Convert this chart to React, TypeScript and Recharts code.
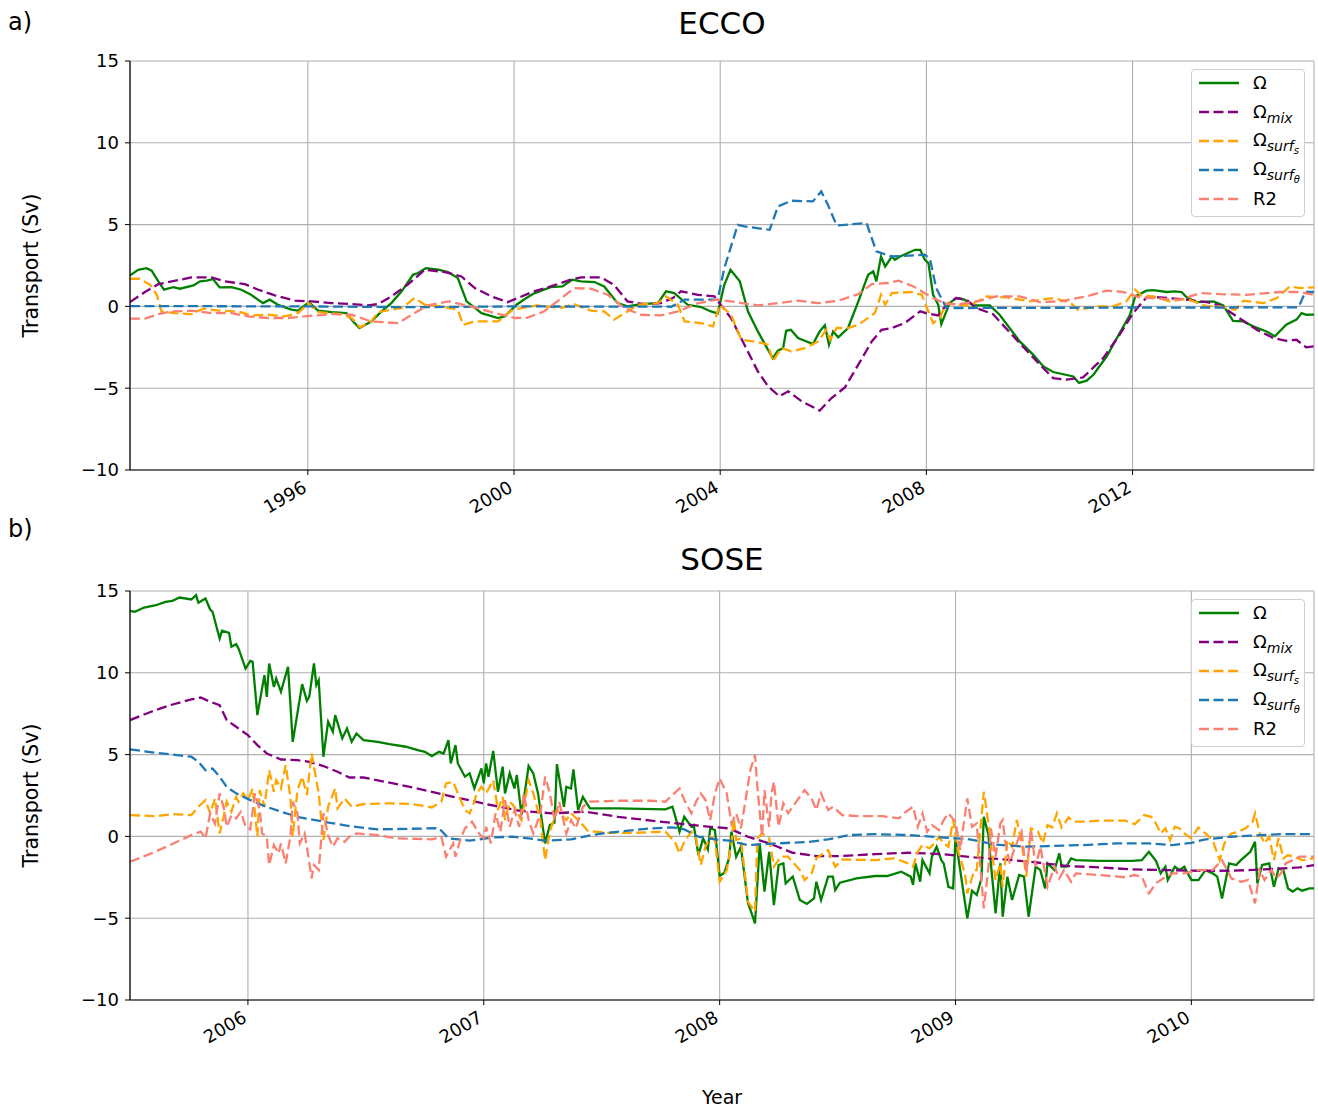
import React from 'react';
import { LineChart, Line, XAxis, YAxis, CartesianGrid } from 'recharts';

type Pt = [number, number];

const yTicks = [-10, -5, 0, 5, 10, 15];
const eccoTicks = [1996, 2000, 2004, 2008, 2012];
const soseTicks = [2006, 2007, 2008, 2009, 2010];
const eccoRange: [number, number] = [1992.55, 2015.52];
const soseRange: [number, number] = [2005.5, 2010.52];

// ---- ECCO (years, Sv) ----
const eccoOmega: Pt[] = [
  [1992.55, 1.9], [1992.71, 2.24], [1992.87, 2.34], [1992.97, 2.18], [1993.1, 1.53], [1993.21, 1.02],
  [1993.39, 1.18], [1993.52, 1.08], [1993.78, 1.28], [1993.91, 1.53], [1994.04, 1.57], [1994.16, 1.67],
  [1994.29, 1.16], [1994.52, 1.18], [1994.71, 1.02], [1994.88, 0.75], [1995.13, 0.2], [1995.26, 0.41],
  [1995.42, 0.1], [1995.68, -0.2], [1995.81, -0.26], [1996.02, 0.26], [1996.2, -0.26], [1996.46, -0.35],
  [1996.75, -0.41], [1996.88, -0.92], [1997.0, -1.32], [1997.23, -0.92], [1997.43, -0.31], [1997.62, 0.2],
  [1997.82, 0.92], [1998.04, 1.93], [1998.14, 2.04], [1998.29, 2.34], [1998.53, 2.24], [1998.72, 2.1],
  [1998.91, 1.73], [1999.08, 0.31], [1999.37, -0.41], [1999.69, -0.71], [1999.82, -0.61], [2000.05, 0.1],
  [2000.21, 0.45], [2000.39, 0.8], [2000.71, 1.18], [2000.94, 1.22], [2001.13, 1.63], [2001.3, 1.53],
  [2001.56, 1.49], [2001.75, 1.22], [2002.01, 0.2], [2002.2, 0], [2002.46, 0.14], [2002.79, 0.2],
  [2002.95, 0.92], [2003.11, 0.81], [2003.37, 0.1], [2003.63, -0.04], [2003.82, -0.31], [2003.95, -0.43],
  [2004.08, 1.32], [2004.2, 2.24], [2004.38, 1.53], [2004.54, -0.31], [2004.73, -1.53], [2004.89, -2.44],
  [2005.02, -3.16], [2005.12, -2.71], [2005.22, -2.55], [2005.28, -1.49], [2005.37, -1.43], [2005.51, -1.93],
  [2005.8, -2.3], [2005.93, -1.53], [2006.03, -1.16], [2006.11, -2.34], [2006.19, -1.53], [2006.29, -1.89],
  [2006.48, -1.32], [2006.68, 0.31], [2006.87, 1.93], [2006.97, 2.14], [2007.03, 1.53], [2007.12, 3.05],
  [2007.2, 2.44], [2007.33, 3.05], [2007.39, 2.85], [2007.49, 3.05], [2007.78, 3.46], [2007.88, 3.46],
  [2007.97, 2.85], [2008.04, 2.65], [2008.13, 0.71], [2008.23, 0.1], [2008.29, -1.08], [2008.45, 0.2],
  [2008.58, 0.51], [2008.74, 0.41], [2008.91, 0.06], [2009.23, 0.06], [2009.42, -0.51], [2009.81, -2.14],
  [2010.07, -2.95], [2010.27, -3.67], [2010.46, -4.01], [2010.85, -4.28], [2010.96, -4.68], [2011.11, -4.54],
  [2011.24, -4.18], [2011.5, -3.05], [2011.75, -1.63], [2011.95, -0.51], [2012.05, 0.61], [2012.27, 0.96],
  [2012.4, 1.0], [2012.66, 0.88], [2012.82, 0.92], [2012.95, 0.88], [2013.05, 0.55], [2013.24, 0.26],
  [2013.57, 0.31], [2013.76, 0.06], [2013.95, -0.88], [2014.15, -0.92], [2014.34, -1.22], [2014.6, -1.53],
  [2014.76, -1.83], [2014.98, -1.12], [2015.18, -0.81], [2015.28, -0.41], [2015.37, -0.51], [2015.52, -0.5],
];

const eccoMix: Pt[] = [
  [1992.55, 0.26], [1992.84, 0.88], [1993.1, 1.36], [1993.36, 1.53], [1993.74, 1.77], [1994.13, 1.77],
  [1994.39, 1.53], [1994.78, 1.36], [1995.04, 1.02], [1995.36, 0.67], [1995.75, 0.35], [1996.07, 0.31],
  [1996.46, 0.2], [1996.85, 0.14], [1997.17, 0.06], [1997.36, 0.14], [1997.62, 0.61], [1997.95, 1.36],
  [1998.27, 2.24], [1998.66, 2.1], [1998.98, 1.83], [1999.24, 1.12], [1999.56, 0.61], [1999.88, 0.26],
  [2000.37, 0.9], [2000.71, 1.22], [2001.1, 1.63], [2001.3, 1.77], [2001.69, 1.77], [2001.94, 1.32],
  [2002.2, 0.31], [2002.53, 0.14], [2002.85, 0.2], [2003.08, 0.51], [2003.24, 0.92], [2003.57, 0.71],
  [2003.89, 0.61], [2004.02, 0.06], [2004.21, -0.71], [2004.47, -2.34], [2004.73, -3.97], [2004.93, -4.89],
  [2005.15, -5.5], [2005.32, -5.19], [2005.58, -5.8], [2005.93, -6.37], [2006.16, -5.6], [2006.42, -4.95],
  [2006.68, -3.56], [2006.94, -2.14], [2007.13, -1.43], [2007.33, -1.32], [2007.59, -1.0], [2007.88, -0.3],
  [2008.04, -0.45], [2008.23, -0.55], [2008.39, 0.1], [2008.58, 0.51], [2008.78, 0.41], [2008.97, -0.1],
  [2009.29, -0.47], [2009.81, -2.24], [2010.2, -3.56], [2010.46, -4.38], [2010.72, -4.48], [2011.04, -4.34],
  [2011.43, -3.16], [2011.75, -1.73], [2012.01, -0.41], [2012.27, 0.55], [2012.53, 0.55], [2013.05, 0.41],
  [2013.44, 0.26], [2013.7, 0.06], [2014.02, -0.61], [2014.41, -1.43], [2014.73, -1.93], [2014.98, -2.1],
  [2015.18, -2.04], [2015.37, -2.5], [2015.52, -2.44],
];

const eccoSurfS: Pt[] = [
  [1992.55, 1.69], [1992.74, 1.69], [1992.94, 1.32], [1993.07, 0.71], [1993.16, -0.31], [1993.42, -0.41],
  [1993.74, -0.47], [1993.97, -0.14], [1994.26, -0.26], [1994.65, -0.31], [1994.91, -0.55], [1995.23, -0.51],
  [1995.55, -0.61], [1995.81, -0.41], [1996.01, 0.2], [1996.2, -0.35], [1996.65, -0.47], [1996.85, -0.71],
  [1997.01, -1.28], [1997.23, -0.92], [1997.36, -0.35], [1997.82, -0.1], [1998.07, 0.51], [1998.27, 0.1],
  [1998.59, 0], [1998.91, -0.2], [1999.01, -1.12], [1999.24, -0.92], [1999.69, -0.92], [1999.95, -0.26],
  [2000.21, -0.06], [2000.45, 0.06], [2000.91, -0.1], [2001.17, 0.14], [2001.49, -0.26], [2001.75, -0.31],
  [2001.94, -0.81], [2002.2, -0.31], [2002.4, 0.1], [2002.79, 0.2], [2002.95, 0.61], [2003.18, 0.1],
  [2003.31, -0.92], [2003.63, -1.02], [2003.86, -1.22], [2003.99, 0.1], [2004.21, -0.51], [2004.41, -2.04],
  [2004.73, -2.18], [2004.93, -2.34], [2005.02, -3.36], [2005.19, -2.55], [2005.38, -2.75], [2005.64, -2.55],
  [2005.9, -2.14], [2006.06, -1.43], [2006.13, -2.04], [2006.26, -1.32], [2006.48, -1.32], [2006.68, -1.12],
  [2007.0, -0.41], [2007.12, 0.71], [2007.2, 0.1], [2007.33, 0.81], [2007.71, 0.88], [2007.91, 0.71],
  [2008.04, -0.31], [2008.13, -1.02], [2008.26, -0.71], [2008.39, 0.2], [2008.65, 0.1], [2008.84, 0.06],
  [2009.17, 0.61], [2009.55, 0.55], [2010.01, 0.31], [2010.46, 0.51], [2010.78, 0.26], [2010.94, -0.2],
  [2011.3, 0], [2011.62, 0], [2011.88, 0.31], [2012.05, 1.02], [2012.17, 0.67], [2012.4, 0.61],
  [2012.72, 0.31], [2013.05, 0.47], [2013.44, 0], [2013.7, 0], [2013.99, -0.2], [2014.15, 0.35],
  [2014.54, 0.2], [2014.8, 0.51], [2015.05, 1.22], [2015.25, 1.12], [2015.52, 1.16],
];

const eccoSurfT: Pt[] = [
  [1992.55, 0.02], [1996.0, 0], [1998.0, -0.05], [2000.0, 0], [2003.05, -0.02], [2003.31, 0.41],
  [2003.95, 0.41], [2004.08, 2.34], [2004.34, 4.99], [2004.47, 4.89], [2004.96, 4.68], [2005.12, 6.11],
  [2005.38, 6.46], [2005.8, 6.42], [2005.96, 7.03], [2006.09, 6.21], [2006.26, 4.95], [2006.84, 5.09],
  [2007.03, 3.36], [2007.33, 3.05], [2007.97, 3.16], [2008.07, 2.9], [2008.19, 1.12], [2008.39, -0.1],
  [2011.0, -0.08], [2015.22, -0.06], [2015.35, 0.88], [2015.52, 0.88],
];

const eccoR2: Pt[] = [
  [1992.55, -0.75], [1992.84, -0.75], [1993.1, -0.47], [1993.36, -0.31], [1993.74, -0.26], [1994.13, -0.41],
  [1994.52, -0.41], [1994.84, -0.61], [1995.23, -0.71], [1995.62, -0.71], [1995.94, -0.61], [1996.46, -0.47],
  [1996.85, -0.51], [1997.23, -0.92], [1997.75, -1.02], [1998.07, -0.41], [1998.33, 0.06], [1998.72, 0.31],
  [1999.17, 0], [1999.56, -0.35], [2000.01, -0.71], [2000.25, -0.7], [2000.58, -0.31], [2000.84, 0.31],
  [2001.17, 1.12], [2001.49, 1.08], [2001.82, 0.71], [2002.14, -0.1], [2002.46, -0.51], [2002.85, -0.55],
  [2003.18, -0.31], [2003.57, 0.2], [2003.95, 0.41], [2004.21, 0.31], [2004.73, 0.06], [2005.12, 0.2],
  [2005.51, 0.35], [2005.9, 0.2], [2006.29, 0.35], [2006.68, 0.75], [2006.94, 1.36], [2007.26, 1.43],
  [2007.46, 1.57], [2007.75, 1.22], [2007.97, 0.81], [2008.13, 0.51], [2008.39, 0.14], [2008.65, 0.14],
  [2009.04, 0.35], [2009.36, 0.61], [2009.81, 0.61], [2010.2, 0.26], [2010.59, 0.31], [2011.11, 0.61],
  [2011.5, 0.96], [2011.82, 0.88], [2012.14, 0.55], [2012.53, 0.47], [2012.92, 0.41], [2013.31, 0.81],
  [2013.7, 0.75], [2014.21, 0.71], [2014.6, 0.81], [2014.86, 0.88], [2015.25, 0.88], [2015.52, 0.71],
];

// ---- SOSE (years, Sv) ----
const soseOmega: Pt[] = [
  [2005.5, 13.79], [2005.52, 13.73], [2005.56, 13.99], [2005.61, 14.13], [2005.65, 14.34], [2005.68, 14.4],
  [2005.71, 14.6], [2005.76, 14.48], [2005.78, 14.75], [2005.79, 14.28], [2005.82, 14.54], [2005.84, 13.87],
  [2005.85, 13.73], [2005.88, 12.1], [2005.89, 12.57], [2005.92, 12.44], [2005.93, 11.59], [2005.95, 11.75],
  [2005.96, 11.49], [2005.99, 10.26], [2006.01, 10.73], [2006.02, 10.67], [2006.04, 7.41], [2006.07, 9.86],
  [2006.08, 8.53], [2006.09, 10.57], [2006.11, 9.14], [2006.12, 9.65], [2006.14, 8.84], [2006.17, 10.37],
  [2006.19, 5.78], [2006.23, 9.31], [2006.25, 8.29], [2006.26, 8.53], [2006.28, 10.57], [2006.29, 9.25],
  [2006.3, 9.55], [2006.32, 4.87], [2006.34, 7.01], [2006.36, 6.4], [2006.37, 7.41], [2006.4, 5.99],
  [2006.42, 6.6], [2006.44, 5.78], [2006.46, 6.29], [2006.49, 5.89], [2006.55, 5.78], [2006.6, 5.64],
  [2006.67, 5.48], [2006.72, 5.27], [2006.75, 5.17], [2006.78, 4.91], [2006.81, 5.17], [2006.83, 5.07],
  [2006.85, 5.89], [2006.86, 4.46], [2006.88, 5.58], [2006.89, 4.46], [2006.92, 3.65], [2006.94, 3.85],
  [2006.96, 2.93], [2006.99, 4.15], [2007.0, 3.24], [2007.01, 4.46], [2007.02, 3.65], [2007.04, 5.23],
  [2007.06, 2.73], [2007.08, 4.26], [2007.09, 2.63], [2007.11, 3.85], [2007.13, 2.93], [2007.14, 3.75],
  [2007.16, 1.3], [2007.19, 4.3], [2007.21, 3.85], [2007.23, 2.63], [2007.26, -0.43], [2007.28, 0.69],
  [2007.3, 0.84], [2007.31, 4.42], [2007.34, 1.81], [2007.35, 3.03], [2007.37, 2.93], [2007.38, 4.09],
  [2007.4, 1.61], [2007.42, 2.42], [2007.45, 1.71], [2007.57, 1.71], [2007.77, 1.65], [2007.8, 1.81],
  [2007.83, 0.29], [2007.85, 1.2], [2007.88, 0.59], [2007.89, 0.69], [2007.91, -1.14], [2007.93, -0.12],
  [2007.95, -0.79], [2007.96, 0.49], [2007.98, 0.39], [2008.0, -2.42], [2008.02, -2.22], [2008.04, -1.34],
  [2008.05, 0.29], [2008.07, -1.24], [2008.09, -0.63], [2008.12, -4.05], [2008.15, -5.32], [2008.17, -0.43],
  [2008.19, -3.38], [2008.21, -0.94], [2008.23, -4.2], [2008.25, -1.75], [2008.27, -1.65], [2008.28, -2.87],
  [2008.31, -2.46], [2008.34, -3.89], [2008.37, -4.13], [2008.4, -3.79], [2008.41, -2.77], [2008.43, -3.89],
  [2008.46, -2.46], [2008.48, -2.46], [2008.49, -3.28], [2008.51, -2.83], [2008.58, -2.57], [2008.66, -2.42],
  [2008.71, -2.42], [2008.77, -2.16], [2008.81, -2.46], [2008.82, -2.97], [2008.83, -1.65], [2008.85, -2.77],
  [2008.86, -1.45], [2008.89, -2.26], [2008.9, -1.24], [2008.92, -0.63], [2008.94, -1.45], [2008.95, -1.65],
  [2008.97, -3.08], [2008.99, -3.18], [2009.0, -0.12], [2009.02, -2.06], [2009.05, -5.01], [2009.07, -3.32],
  [2009.09, -3.58], [2009.11, -2.57], [2009.12, 1.2], [2009.14, 0.08], [2009.15, -1.65], [2009.17, -4.7],
  [2009.19, -1.65], [2009.2, -4.91], [2009.22, -2.46], [2009.24, -3.89], [2009.27, -2.36], [2009.29, -2.46],
  [2009.31, -4.91], [2009.34, -1.85], [2009.36, -2.06], [2009.38, -3.18], [2009.39, -1.65], [2009.42, -2.06],
  [2009.44, -1.04], [2009.45, -1.85], [2009.47, -1.85], [2009.49, -1.34], [2009.51, -1.45], [2009.61, -1.49],
  [2009.75, -1.49], [2009.79, -1.45], [2009.82, -0.94], [2009.85, -1.49], [2009.87, -2.26], [2009.89, -1.85],
  [2009.9, -2.67], [2009.93, -1.85], [2009.95, -2.06], [2009.97, -1.85], [2010.0, -2.67], [2010.03, -2.67],
  [2010.06, -2.06], [2010.09, -2.26], [2010.11, -2.46], [2010.13, -3.79], [2010.16, -1.65], [2010.19, -1.75],
  [2010.21, -1.45], [2010.25, -0.94], [2010.27, -0.33], [2010.28, -2.87], [2010.3, -1.75], [2010.33, -1.65],
  [2010.35, -3.08], [2010.37, -1.96], [2010.39, -2.06], [2010.41, -3.18], [2010.43, -3.38], [2010.45, -3.18],
  [2010.47, -3.32], [2010.5, -3.18], [2010.52, -3.18],
];

const soseMix: Pt[] = [
  [2005.5, 7.11], [2005.59, 7.62], [2005.67, 8.02], [2005.76, 8.37], [2005.8, 8.49], [2005.84, 8.23],
  [2005.88, 8.02], [2005.91, 7.11], [2005.95, 6.7], [2006.0, 6.19], [2006.04, 5.58], [2006.08, 5.07],
  [2006.14, 4.7], [2006.21, 4.66], [2006.26, 4.56], [2006.32, 4.3], [2006.38, 3.95], [2006.43, 3.6],
  [2006.49, 3.6], [2006.58, 3.34], [2006.67, 3.08], [2006.76, 2.79], [2006.87, 2.42], [2007.01, 1.98],
  [2007.15, 1.57], [2007.29, 1.41], [2007.43, 1.51], [2007.57, 1.2], [2007.71, 0.96], [2007.85, 0.75],
  [2007.95, 0.6], [2008.04, 0.49], [2008.12, -0.02], [2008.21, -0.43], [2008.31, -1.0], [2008.41, -1.2],
  [2008.52, -1.2], [2008.66, -1.08], [2008.8, -1.0], [2008.94, -1.08], [2009.08, -1.28], [2009.2, -1.4],
  [2009.32, -1.55], [2009.47, -1.81], [2009.61, -1.89], [2009.75, -2.02], [2009.89, -2.06], [2010.03, -2.1],
  [2010.17, -2.1], [2010.31, -2.02], [2010.46, -1.89], [2010.52, -1.75],
];

const soseSurfS: Pt[] = [
  [2005.5, 1.3], [2005.61, 1.24], [2005.68, 1.36], [2005.76, 1.3], [2005.79, 1.81], [2005.82, 2.22],
  [2005.84, 1.41], [2005.86, 2.32], [2005.88, 0.18], [2005.9, 1.41], [2005.91, 2.12], [2005.93, 1.51],
  [2005.95, 2.42], [2005.96, 2.12], [2005.98, 2.63], [2006.0, 2.22], [2006.02, 2.93], [2006.04, -0.02],
  [2006.05, 2.83], [2006.07, 1.81], [2006.09, 4.05], [2006.11, 2.73], [2006.12, 3.44], [2006.14, 2.93],
  [2006.16, 4.36], [2006.18, 2.42], [2006.19, -0.02], [2006.21, 2.83], [2006.23, 3.65], [2006.25, 2.53],
  [2006.27, 5.07], [2006.28, 4.26], [2006.3, 2.63], [2006.32, -0.22], [2006.34, 1.81], [2006.37, 2.93],
  [2006.38, 1.71], [2006.41, 2.32], [2006.44, 1.81], [2006.49, 1.98], [2006.6, 2.02], [2006.69, 1.98],
  [2006.75, 1.85], [2006.78, 1.77], [2006.82, 2.12], [2006.84, 3.24], [2006.87, 3.34], [2006.89, 2.63],
  [2006.92, 1.61], [2006.94, 1.41], [2006.96, 2.12], [2006.97, 2.63], [2006.99, 3.03], [2007.01, 2.63],
  [2007.04, 3.44], [2007.06, 1.61], [2007.08, 2.42], [2007.09, 1.0], [2007.11, 2.12], [2007.13, 1.81],
  [2007.16, 1.0], [2007.19, 3.44], [2007.21, 2.63], [2007.24, 1.0], [2007.26, -1.45], [2007.28, 0.29],
  [2007.31, 1.61], [2007.35, 1.0], [2007.37, 1.41], [2007.4, 1.0], [2007.42, 0.69], [2007.44, 0.35],
  [2007.52, 0.22], [2007.64, 0.22], [2007.77, 0.29], [2007.81, -0.33], [2007.83, -1.04], [2007.85, -0.33],
  [2007.88, 0.29], [2007.9, -0.12], [2007.92, -1.75], [2007.94, -0.63], [2007.96, -0.02], [2007.98, -0.22],
  [2008.0, -2.77], [2008.03, -2.06], [2008.05, -0.43], [2008.06, 1.1], [2008.07, -0.22], [2008.09, -0.12],
  [2008.12, -3.99], [2008.15, -4.6], [2008.16, -0.12], [2008.18, 0.18], [2008.21, -0.12], [2008.23, -1.85],
  [2008.26, -1.24], [2008.29, -1.24], [2008.34, -2.06], [2008.36, -2.67], [2008.39, -2.26], [2008.41, -1.34],
  [2008.43, -1.14], [2008.46, -0.84], [2008.49, -1.85], [2008.52, -1.41], [2008.66, -1.45], [2008.74, -1.34],
  [2008.8, -1.65], [2008.82, -1.85], [2008.84, -0.94], [2008.86, -0.53], [2008.89, -0.73], [2008.91, -0.43],
  [2008.93, -0.02], [2008.95, -0.43], [2008.97, -0.63], [2008.99, 1.0], [2009.01, -0.84], [2009.04, -2.26],
  [2009.05, -3.48], [2009.08, -2.06], [2009.09, -2.06], [2009.12, 2.73], [2009.13, 1.81], [2009.15, -0.43],
  [2009.17, -2.67], [2009.19, -1.65], [2009.2, -3.08], [2009.22, -0.22], [2009.24, -0.63], [2009.26, 1.0],
  [2009.28, -0.33], [2009.3, -2.46], [2009.32, 0.49], [2009.35, 0.29], [2009.37, -0.43], [2009.39, 0.69],
  [2009.41, 0.55], [2009.43, 1.41], [2009.45, 0.55], [2009.48, 1.16], [2009.5, 0.9], [2009.55, 0.9],
  [2009.61, 0.96], [2009.72, 0.96], [2009.76, 0.75], [2009.8, 1.3], [2009.83, 1.2], [2009.85, 0.79],
  [2009.87, 0.18], [2009.89, 0.49], [2009.91, -0.22], [2009.93, 0.59], [2009.95, 0.49], [2009.97, 0.18],
  [2010.0, -0.12], [2010.03, 0.55], [2010.06, 0.18], [2010.09, -0.22], [2010.12, -1.45], [2010.14, -0.43],
  [2010.17, 0.18], [2010.2, 0.29], [2010.23, 0.49], [2010.26, 0.9], [2010.27, 1.41], [2010.29, 0.18],
  [2010.31, -0.43], [2010.33, -0.02], [2010.35, -1.45], [2010.37, -0.12], [2010.39, -1.34], [2010.41, -1.14],
  [2010.44, -1.28], [2010.47, -1.45], [2010.52, -1.34],
];

const soseSurfT: Pt[] = [
  [2005.5, 5.32], [2005.61, 5.11], [2005.7, 4.97], [2005.76, 4.87], [2005.79, 4.56], [2005.82, 4.05],
  [2005.85, 4.15], [2005.88, 3.65], [2005.91, 3.03], [2005.95, 2.63], [2006.01, 2.22], [2006.07, 1.85],
  [2006.14, 1.51], [2006.22, 1.16], [2006.32, 0.9], [2006.43, 0.63], [2006.55, 0.43], [2006.81, 0.5],
  [2006.85, -0.12], [2006.94, -0.26], [2007.04, -0.06], [2007.12, -0.02], [2007.19, -0.12], [2007.26, -0.26],
  [2007.37, -0.18], [2007.46, 0.08], [2007.52, 0.22], [2007.71, 0.49], [2007.8, 0.55], [2007.85, 0.43],
  [2007.91, -0.02], [2008.0, -0.22], [2008.04, -0.26], [2008.12, -0.53], [2008.24, -0.43], [2008.38, -0.33],
  [2008.46, -0.18], [2008.55, 0.08], [2008.66, 0.14], [2008.8, 0.08], [2008.94, -0.06], [2009.06, -0.18],
  [2009.17, -0.5], [2009.3, -0.63], [2009.39, -0.59], [2009.54, -0.53], [2009.68, -0.43], [2009.82, -0.43],
  [2009.92, -0.53], [2010.0, -0.39], [2010.06, -0.18], [2010.17, -0.02], [2010.29, 0.08], [2010.38, 0.14],
  [2010.52, 0.14],
];

const soseR2: Pt[] = [
  [2005.5, -1.55], [2005.59, -1.04], [2005.67, -0.53], [2005.76, 0.08], [2005.8, 0.29], [2005.82, -0.12],
  [2005.84, 1.41], [2005.86, 0.79], [2005.88, 2.63], [2005.9, 1.61], [2005.91, 0.59], [2005.93, 1.3],
  [2005.95, 1.1], [2005.97, 1.51], [2005.99, 0.59], [2006.01, 0.43], [2006.03, 2.63], [2006.05, 1.61],
  [2006.06, 0.18], [2006.08, -0.02], [2006.09, -1.75], [2006.11, -0.53], [2006.13, -1.04], [2006.14, -0.43],
  [2006.16, -1.65], [2006.18, -0.02], [2006.19, 2.12], [2006.21, 1.41], [2006.22, -0.43], [2006.24, 0.18],
  [2006.25, -0.63], [2006.27, -2.57], [2006.28, -1.75], [2006.3, -2.06], [2006.32, 1.41], [2006.34, 0.08],
  [2006.36, -0.63], [2006.38, -0.12], [2006.41, -0.33], [2006.43, -0.02], [2006.46, 0.18], [2006.55, 0.08],
  [2006.63, -0.12], [2006.72, -0.15], [2006.78, -0.18], [2006.82, -0.02], [2006.84, -1.24], [2006.87, -0.43],
  [2006.88, -1.24], [2006.9, -0.22], [2006.92, 0.49], [2006.95, 0.9], [2006.98, 0.18], [2007.0, -0.12],
  [2007.01, 0.59], [2007.03, -0.43], [2007.05, 1.41], [2007.07, 0.29], [2007.09, 2.22], [2007.11, 0.59],
  [2007.13, 1.61], [2007.15, 0.59], [2007.17, 2.63], [2007.19, 1.0], [2007.21, 0.18], [2007.24, 1.41],
  [2007.26, 3.65], [2007.28, 2.63], [2007.3, 1.0], [2007.32, 2.12], [2007.35, 0.18], [2007.37, 1.0],
  [2007.39, 0.49], [2007.42, 1.81], [2007.45, 2.12], [2007.57, 2.18], [2007.71, 2.18], [2007.77, 2.12],
  [2007.8, 2.53], [2007.83, 2.93], [2007.85, 2.22], [2007.88, 1.41], [2007.9, 2.12], [2007.92, 2.63],
  [2007.94, 2.22], [2007.96, 1.0], [2007.98, 2.63], [2008.0, 3.54], [2008.03, 2.63], [2008.05, 0.79],
  [2008.07, 1.41], [2008.09, 0.49], [2008.11, 2.22], [2008.13, 4.05], [2008.15, 4.97], [2008.16, 3.03],
  [2008.18, -0.02], [2008.19, 2.83], [2008.21, 0.59], [2008.22, 2.63], [2008.23, 3.34], [2008.25, 0.59],
  [2008.27, 2.02], [2008.29, 1.41], [2008.32, 2.02], [2008.36, 2.83], [2008.39, 2.32], [2008.41, 1.61],
  [2008.43, 2.63], [2008.46, 1.61], [2008.48, 1.81], [2008.52, 1.3], [2008.59, 1.24], [2008.69, 1.24],
  [2008.76, 1.1], [2008.79, 1.51], [2008.82, 1.81], [2008.84, 0.59], [2008.86, 1.41], [2008.88, 0.29],
  [2008.9, 0.69], [2008.93, 0.39], [2008.95, 1.0], [2008.97, 1.41], [2009.0, 0.9], [2009.02, -0.84],
  [2009.03, 0.29], [2009.05, 2.32], [2009.07, 0.59], [2009.09, 0.79], [2009.12, -4.4], [2009.14, -1.85],
  [2009.15, 0.49], [2009.17, -1.24], [2009.19, 0.79], [2009.2, 1.0], [2009.21, -0.22], [2009.23, -1.65],
  [2009.25, -0.73], [2009.28, 0.29], [2009.3, -2.26], [2009.32, 0.39], [2009.34, -1.85], [2009.36, -0.63],
  [2009.38, -2.26], [2009.39, -3.08], [2009.42, -1.85], [2009.44, -2.57], [2009.46, -2.06], [2009.49, -2.77],
  [2009.51, -2.26], [2009.61, -2.36], [2009.72, -2.5], [2009.76, -2.36], [2009.79, -2.46], [2009.82, -3.48],
  [2009.85, -2.87], [2009.88, -2.57], [2009.92, -2.26], [2009.97, -2.26], [2010.03, -2.06], [2010.09, -2.06],
  [2010.13, -1.45], [2010.17, -2.57], [2010.21, -2.77], [2010.24, -2.67], [2010.27, -4.09], [2010.29, -2.06],
  [2010.31, -2.67], [2010.34, -2.06], [2010.36, -2.57], [2010.38, -2.26], [2010.4, -1.65], [2010.43, -1.45],
  [2010.46, -1.24], [2010.52, -1.24],
];

const FONT = '"DejaVu Sans", "Liberation Sans", sans-serif';
const DASH = '10 4.5';

interface SeriesDef {
  key: string;
  color: string;
  dash?: string;
  data: Pt[];
}

const toRows = (pts: Pt[]) => pts.map(([t, v]) => ({ t, v }));

const makeSeries = (o: Pt[], m: Pt[], s: Pt[], th: Pt[], r: Pt[]): SeriesDef[] => [
  { key: 'omega', color: '#008000', data: o },
  { key: 'mix', color: '#800080', dash: DASH, data: m },
  { key: 'surfs', color: '#ffa500', dash: DASH, data: s },
  { key: 'surft', color: '#1f77b4', dash: DASH, data: th },
  { key: 'r2', color: '#fa8072', dash: DASH, data: r },
];

const eccoSeries = makeSeries(eccoOmega, eccoMix, eccoSurfS, eccoSurfT, eccoR2);
const soseSeries = makeSeries(soseOmega, soseMix, soseSurfS, soseSurfT, soseR2);

const fmtY = (v: number) => (v < 0 ? '\u2212' + Math.abs(v) : String(v));

const RotTick = (props: any) => {
  const { x, y, payload } = props;
  return (
    <g transform={`translate(${x},${y + 14}) rotate(-30)`}>
      <text x={0} y={0} textAnchor="end" fill="#000" fontSize={18} fontFamily={FONT}>
        {payload.value}
      </text>
    </g>
  );
};

const sub = { fontStyle: 'italic', fontSize: 14, position: 'relative' as const, top: 5 };
const subsub = { fontStyle: 'italic', fontSize: 10, position: 'relative' as const, top: 3 };

const legendLabels: React.ReactNode[] = [
  <span>Ω</span>,
  <span>Ω<span style={sub}>mix</span></span>,
  <span>Ω<span style={sub}>surf<span style={subsub}>s</span></span></span>,
  <span>Ω<span style={sub}>surf<span style={subsub}>θ</span></span></span>,
  <span>R2</span>,
];

const LegendBox = ({ series, top }: { series: SeriesDef[]; top: number }) => (
  <div
    style={{
      position: 'absolute',
      left: 1191,
      top,
      width: 114,
      height: 148,
      border: '1px solid #d0d0d0',
      borderRadius: 4,
      background: 'rgba(255,255,255,0.85)',
      boxSizing: 'border-box',
    }}
  >
    {series.map((s, i) => (
      <div
        key={s.key}
        style={{ position: 'absolute', left: 7, top: i * 29 - 1, height: 28, display: 'flex', alignItems: 'center' }}
      >
        <svg width={40} height={6}>
          <line x1={0} y1={3} x2={40} y2={3} stroke={s.color} strokeWidth={2.3} strokeDasharray={s.dash} />
        </svg>
        <span style={{ marginLeft: 14, fontSize: 18, lineHeight: '18px', whiteSpace: 'nowrap' }}>{legendLabels[i]}</span>
      </div>
    ))}
  </div>
);

interface PanelProps {
  series: SeriesDef[];
  domain: [number, number];
  ticks: number[];
  top: number;
  height: number;
  xHeight: number;
  xLabel?: string;
}

const Panel = ({ series, domain, ticks, top, height, xHeight, xLabel }: PanelProps) => (
  <div style={{ position: 'absolute', left: 0, top, width: 1318, height }}>
    <LineChart width={1318} height={height} margin={{ top: 61, right: 4, bottom: 0, left: 0 }}>
      <CartesianGrid stroke="#b0b0b0" strokeWidth={1.1} />
      <XAxis
        dataKey="t"
        type="number"
        domain={domain}
        ticks={ticks}
        allowDataOverflow
        height={xHeight}
        tick={<RotTick />}
        tickSize={5}
        tickLine={{ stroke: '#000' }}
        axisLine={{ stroke: '#000', strokeWidth: 1.2 }}
        label={
          xLabel
            ? { value: xLabel, position: 'insideBottom', offset: 6, style: { fill: '#000', fontSize: 19, fontFamily: FONT } }
            : undefined
        }
      />
      <XAxis
        xAxisId="top"
        orientation="top"
        type="number"
        domain={domain}
        height={0}
        tick={false}
        tickLine={false}
        axisLine={{ stroke: '#000', strokeWidth: 1.2 }}
      />
      <YAxis
        type="number"
        domain={[-10, 15]}
        ticks={yTicks}
        width={130}
        tickFormatter={fmtY}
        tick={{ fill: '#000', fontSize: 18, fontFamily: FONT }}
        tickSize={5}
        tickMargin={6}
        tickLine={{ stroke: '#000' }}
        axisLine={{ stroke: '#000', strokeWidth: 1.2 }}
        label={{
          value: 'Transport (Sv)',
          angle: -90,
          position: 'insideLeft',
          offset: 31,
          style: { textAnchor: 'middle', fill: '#000', fontSize: 20.5, fontFamily: FONT },
        }}
      />
      <YAxis
        yAxisId="right"
        orientation="right"
        type="number"
        domain={[-10, 15]}
        width={0}
        tick={false}
        tickLine={false}
        axisLine={{ stroke: '#000', strokeWidth: 1.2 }}
      />
      {series.map((s) => (
        <Line
          key={s.key}
          data={toRows(s.data)}
          dataKey="v"
          type="linear"
          stroke={s.color}
          strokeWidth={2.3}
          strokeDasharray={s.dash}
          dot={false}
          activeDot={false}
          isAnimationActive={false}
        />
      ))}
    </LineChart>
  </div>
);

const textBase: React.CSSProperties = { position: 'absolute', fontFamily: FONT, color: '#000', whiteSpace: 'nowrap' };

export default function App() {
  return (
    <div style={{ position: 'absolute', left: 0, top: 0, width: 1318, height: 1110, background: '#fff', fontFamily: FONT }}>
      <Panel series={eccoSeries} domain={eccoRange} ticks={eccoTicks} top={0} height={525} xHeight={55} />
      <Panel series={soseSeries} domain={soseRange} ticks={soseTicks} top={530} height={580} xHeight={110} xLabel="Year" />

      <div style={{ ...textBase, left: 130, width: 1184, top: 8, textAlign: 'center', fontSize: 31, lineHeight: '31px' }}>ECCO</div>
      <div style={{ ...textBase, left: 130, width: 1184, top: 544, textAlign: 'center', fontSize: 31, lineHeight: '31px' }}>SOSE</div>
      <div style={{ ...textBase, left: 8, top: 10, fontSize: 24, lineHeight: '24px' }}>a)</div>
      <div style={{ ...textBase, left: 8, top: 517, fontSize: 24, lineHeight: '24px' }}>b)</div>

      <LegendBox series={eccoSeries} top={69} />
      <LegendBox series={soseSeries} top={599} />
    </div>
  );
}
